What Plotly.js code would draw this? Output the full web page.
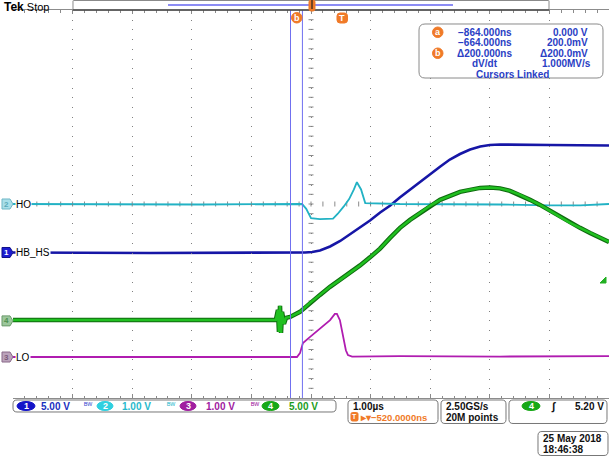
<!DOCTYPE html>
<html><head><meta charset="utf-8">
<script src="https://cdn.plot.ly/plotly-3.0.1.min.js"></script>
<style>html,body{margin:0;padding:0;background:#fff}#chart{width:611px;height:458px}</style>
</head><body><div id="chart"></div>
<script>
// ---- data: time in ns (trigger = 0), values in volts ----
const hoTime  = [-5520, -2380, -670, -600, -520, -370, -150, -70, 30, 120, 200, 250, 320, 390, 970, 1810, 2650, 3490, 4000, 4480];
const hoVolts = [0, -0.01, 0, -0.1, -0.29, -0.31, -0.3, -0.2, -0.05, 0.1, 0.3, 0.45, 0.3, 0.02, 0, 0, -0.01, -0.03, -0.03, 0];

const hbTime  = [-5520, -3220, -620, -500, -370, -200, -30, 130, 300, 470, 640, 810, 970, 1140, 1310, 1480, 1650, 1810, 1980, 2150, 2320, 2480, 2650, 3490, 4480];
const hbVolts = [0, -0.05, 0, 0.05, 0.21, 0.62, 1.19, 1.86, 2.58, 3.30, 4.12, 4.85, 5.67, 6.49, 7.32, 8.09, 8.87, 9.59, 10.15, 10.62, 10.93, 11.08, 11.13, 11.08, 11.03];

const ch4Time  = [-5520, -2380, -1110, -1075, -1058, -1040, -1023, -1006, -973, -940, -870, -705, -537, -369, -201, -33, 134, 302, 470, 638, 806, 973, 1141, 1309, 1477, 1645, 1812, 1980, 2148, 2316, 2484, 2651, 2819, 2987, 3155, 3323, 3490, 3658, 3826, 3994, 4162, 4330, 4480];
const ch4Volts = [0.1, 0.05, 0.1, 1.13, -1.13, 1.55, -1.24, 0.93, -0.31, 0.31, 0.41, 0.93, 1.86, 2.68, 3.51, 4.23, 4.95, 5.72, 6.55, 7.45, 8.56, 9.59, 10.41, 11.13, 11.86, 12.48, 12.89, 13.30, 13.51, 13.71, 13.76, 13.66, 13.40, 12.99, 12.48, 11.96, 11.34, 10.72, 10.10, 9.59, 9.07, 8.56, 8.14];

const loTime  = [-5520, -3220, -755, -705, -655, -540, -370, -200, -120, -85, -35, 15, 65, 100, 170, 970, 2650, 4480];
const loVolts = [0, 0, 0, 0.08, 0.29, 0.41, 0.58, 0.76, 0.89, 0.89, 0.76, 0.45, 0.14, 0.04, 0.01, 0.02, 0.01, 0.02];

const cursorTimes = [-864, -664];
const voltsPerDiv = {ch1: 5, ch2: 1, ch3: 1, ch4: 5};
const groundDiv = {ch1: 3.0, ch2: 4.0, ch3: 0.845, ch4: 1.59}; // divisions above bottom
const timeCenter = -520, timePerDiv = 1000;

const readTimes = ['\u2212864.000ns', '\u2212664.000ns', '\u0394200.000ns'];
const readVals  = ['0.000 V', '200.0mV', '\u0394200.0mV'];

// ---- geometry helpers ----
const L=13, R=609, T=10, B=398;
const fx = x => (x-L)/(R-L);
const fy = y => (B-y)/(B-T);
const P = (x,y) => fx(x).toFixed(5)+','+fy(y).toFixed(5);
function rrect(x0,y0,x1,y1,r){
  return 'M'+P(x0+r,y0)+' L'+P(x1-r,y0)+' Q'+P(x1,y0)+' '+P(x1,y0+r)+' L'+P(x1,y1-r)+' Q'+P(x1,y1)+' '+P(x1-r,y1)+
         ' L'+P(x0+r,y1)+' Q'+P(x0,y1)+' '+P(x0,y1-r)+' L'+P(x0,y0+r)+' Q'+P(x0,y0)+' '+P(x0+r,y0)+' Z';
}
const FONT = 'Liberation Sans, Arial, sans-serif';
const shapes = [], ann = [];
function txt(x,y,s,o){ o=o||{};
  ann.push(Object.assign({xref:'paper',yref:'paper',x:fx(x),y:fy(y),text:s,showarrow:false,
    xanchor:o.xa||'left',yanchor:'middle',borderpad:0,
    font:{family:FONT,size:o.size||10,color:o.color||'#000'}}, o.extra||{}));
}
function ell(x0,y0,x1,y1,fill,line){
  shapes.push({type:'circle',xref:'paper',yref:'paper',x0:fx(x0),x1:fx(x1),y0:fy(y1),y1:fy(y0),
    fillcolor:fill,line:{color:line||fill,width:1},layer:'above'});
}
function pathS(d,fill,line,w){ shapes.push({type:'path',xref:'paper',yref:'paper',path:d,fillcolor:fill||'rgba(0,0,0,0)',line:{color:line||'rgba(0,0,0,0)',width:w===undefined?1:w},layer:'above'}); }
function lineS(x0,y0,x1,y1,c,w,layer){ shapes.push({type:'line',xref:'paper',yref:'paper',x0:fx(x0),y0:fy(y0),x1:fx(x1),y1:fy(y1),line:{color:c,width:w||1},layer:layer||'above'}); }

// center cross ticks
const cx = (L+R)/2, cy = T + 4*(B-T)/8;
for(let k=1;k<40;k++){ const y=T+k*(B-T)/40; lineS(cx-2.5,y,cx+2.5,y,'#8a8a8a',1,'below'); }
for(let k=1;k<50;k++){ const x=L+k*(R-L)/50; lineS(x,cy-2.5,x,cy+2.5,'#8a8a8a',1,'below'); }

// cursors
cursorTimes.forEach(t=>shapes.push({type:'line',xref:'x',yref:'paper',x0:t,x1:t,y0:0,y1:1,line:{color:'#7070f0',width:1},layer:'above'}));

// top record bar
pathS(rrect(73,0.5,549,10,0.5),'#fff','#8a8a8a',1);
lineS(73,10,549,10,'#444',1.5);
lineS(168,5,453,5,'#8c8cf4',2);
pathS(rrect(309,0,315,11,2),'#f07a28','#f07a28',1);
lineS(312,0,312,9,'#222',1.2);
txt(3,6.5,'<b><span style="font-size:12px">Tek</span></b> Stop',{size:11});

// orange cursor / trigger markers
ell(291.5,12.5,302,23,'#f07a28');
txt(296.8,17.8,'<b>b</b>',{xa:'center',size:9,color:'#fff'});
pathS(rrect(337,13,347.5,23,3),'#f07a28','#f07a28',1);
txt(342.3,18,'<b>T</b>',{xa:'center',size:9,color:'#fff'});

// readout box
pathS(rrect(419,24,603,78,6),'#fff','#8a8a8a',1);
const BLUE='#2a3ec4';
ell(432.5,27,443,37.5,'#f07a28'); txt(437.8,32.2,'<b>a</b>',{xa:'center',size:9,color:'#fff'});
ell(432.5,48,443,58.5,'#f07a28'); txt(437.8,53.2,'<b>b</b>',{xa:'center',size:9,color:'#fff'});
const rowY=[32,42.7,53.3];
for(let i=0;i<3;i++){
  txt(513,rowY[i],'<b>'+readTimes[i]+'</b>',{xa:'right',color:BLUE});
  txt(589,rowY[i],'<b>'+readVals[i]+'</b>',{xa:'right',color:BLUE});
}
txt(471,63.6,'<b>dV/dt</b>',{color:BLUE});
txt(592,63.6,'<b>1.000MV/s</b>',{xa:'right',color:BLUE});
txt(512,74.2,'<b>Cursors Linked</b>',{xa:'center',color:BLUE});

// left ground markers & labels
function tag(y,fill,line,num,numColor){
  pathS('M'+P(2,y-5)+' L'+P(10,y-5)+' L'+P(13,y)+' L'+P(10,y+5)+' L'+P(2,y+5)+' Z',fill,line,1);
  txt(6.5,y,'<b>'+num+'</b>',{xa:'center',size:8,color:numColor});
}
const gy = c => B - groundDiv[c]*(B-T)/8;
tag(gy('ch2'),'#a9dfe9','#6fb7c6','2','#5aa9b8');
tag(gy('ch1'),'#1c1cd0','#10108a','1','#fff');
tag(gy('ch4'),'#9cc79c','#6a9a6a','4','#4f8f4f');
tag(gy('ch3'),'#bba3bb','#8a6a8a','3','#7a5a7a');
txt(15,gy('ch2'),'HO',{extra:{bgcolor:'#fff'}});
txt(15,gy('ch1'),'HB_HS',{extra:{bgcolor:'#fff'}});
txt(15,gy('ch3'),'LO',{extra:{bgcolor:'#fff'}});

// trigger level marker (right)
pathS('M'+P(600,283)+' L'+P(606,283)+' L'+P(606,277)+' Z','#22b022','#22b022',1);

// bottom status boxes
pathS(rrect(13,400,336,412,4),'#fff','#777',1);
const chs=[['1','#1414c8','#fff',17,35,'5.00 V','#1a2fc0',40],
           ['2','#2fd0e0','#fff',97,113,'1.00 V','#27b9cc',121],
           ['3','#a01ea0','#fff',180,196,'1.00 V','#a020a0',205],
           ['4','#17a817','#fff',262,279,'5.00 V','#1c9c1c',288]];
const bwX=[83,166,250], bwC=['#3a4fd0','#27b9cc','#a020a0'];
chs.forEach(c=>{ ell(c[3],401.5,c[4],410.5,c[1]); txt((c[3]+c[4])/2,406.2,'<b>'+c[0]+'</b>',{xa:'center',size:9,color:c[2]}); txt(c[7],406,'<b>'+c[5]+'</b>',{color:c[6]}); });
bwX.forEach((x,i)=>txt(x,405.5,'\u1d2e\u1d42',{size:8,color:bwC[i]}));

pathS(rrect(348,400,438,423.5,4),'#fff','#777',1);
txt(352,406,'<b>1.00\u00b5s</b>',{color:'#111'});
pathS(rrect(351,412.5,358,421,1.5),'#f07a28','#f07a28',1);
txt(354.5,416.8,'<b>T</b>',{xa:'center',size:7,color:'#fff'});
txt(359,417,'<b>\u25b8\u25be\u2212520.0000ns</b>',{color:'#f07a28',size:9.5});
pathS(rrect(441,400,506,423.5,4),'#fff','#777',1);
txt(444.5,406,'<b>2.50GS/s</b>',{color:'#111'});
txt(444.5,417,'<b>20M points</b>',{color:'#111'});
pathS(rrect(509,400,607,423.5,4),'#fff','#777',1);
ell(522,401.5,540,410.5,'#17a817'); txt(531,406.2,'<b>4</b>',{xa:'center',size:9,color:'#fff'});
txt(553.5,406,'<b><i>\u222b</i></b>',{xa:'center',color:'#111',size:11});
txt(605,406,'<b>5.20 V</b>',{xa:'right',color:'#111'});

pathS(rrect(538,431.5,608,455.5,4),'#fff','#777',1);
txt(542,438,'<b>25 May 2018</b>',{color:'#111'});
txt(542,449.5,'<b>18:46:38</b>',{color:'#111'});

// ---- traces ----
const common = {type:'scatter',mode:'lines',xaxis:'x',hoverinfo:'skip',showlegend:false};
const data = [
  Object.assign({}, common, {x:loTime, y:loVolts, yaxis:'y4', line:{color:'#b01cb0',width:1.8}}),
  Object.assign({}, common, {x:ch4Time, y:ch4Volts, yaxis:'y5', line:{color:'#0f6a0f',width:4.5}}),
  Object.assign({}, common, {x:ch4Time, y:ch4Volts, yaxis:'y5', line:{color:'#20c020',width:2.5}}),
  Object.assign({}, common, {x:hoTime, y:hoVolts, yaxis:'y3', line:{color:'#22b2c4',width:1.8}}),
  Object.assign({}, common, {x:hbTime, y:hbVolts, yaxis:'y2', line:{color:'#1616a6',width:2.6}})
];

function chAxis(c){
  const v=voltsPerDiv[c], g=groundDiv[c];
  return {overlaying:'y',visible:false,range:[-g*v,(8-g)*v],fixedrange:true,showgrid:false,zeroline:false};
}
const GRID='#808080';
const layout = {
  width:611,height:458,margin:{l:L,r:611-R,t:T,b:458-B},
  paper_bgcolor:'#fff',plot_bgcolor:'rgba(0,0,0,0)',
  xaxis:{range:[timeCenter-5*timePerDiv,timeCenter+5*timePerDiv],tick0:timeCenter,dtick:timePerDiv,
    showgrid:true,gridcolor:GRID,griddash:'1px,8.7px',gridwidth:1,showticklabels:false,zeroline:false,
    showline:true,linecolor:'#8c8c8c',linewidth:1,mirror:'ticks',ticks:'inside',ticklen:4,tickcolor:'#8a8a8a',
    minor:{dtick:timePerDiv/5,tick0:timeCenter,ticks:'inside',ticklen:2.5,tickcolor:'#8a8a8a',showgrid:false},fixedrange:true},
  yaxis:{range:[0,8],tick0:0,dtick:1,showgrid:true,gridcolor:GRID,griddash:'1px,10.92px',gridwidth:1,
    showticklabels:false,zeroline:false,showline:true,linecolor:'#8c8c8c',linewidth:1,mirror:'ticks',
    ticks:'inside',ticklen:4,tickcolor:'#8a8a8a',
    minor:{dtick:0.2,tick0:0,ticks:'inside',ticklen:2.5,tickcolor:'#8a8a8a',showgrid:false},fixedrange:true},
  yaxis2:chAxis('ch1'), yaxis3:chAxis('ch2'), yaxis4:chAxis('ch3'), yaxis5:chAxis('ch4'),
  shapes:shapes, annotations:ann
};
Plotly.newPlot('chart',data,layout,{displayModeBar:false,staticPlot:true});
</script></body></html>
